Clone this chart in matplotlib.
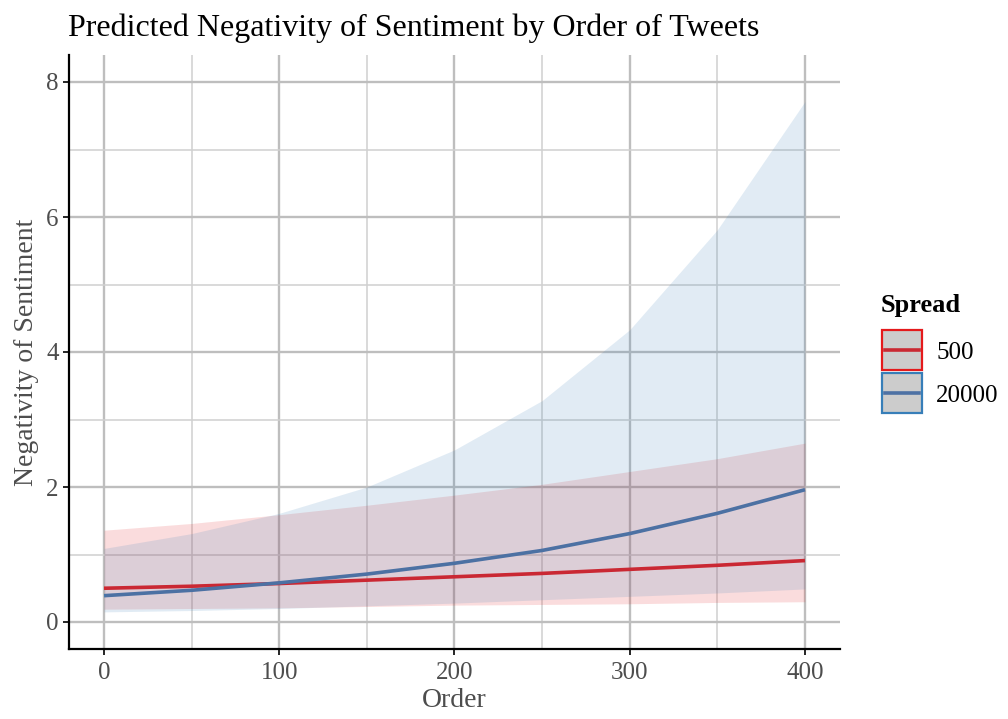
import matplotlib
matplotlib.use("Agg")
import matplotlib.pyplot as plt
from matplotlib.patches import Rectangle
from matplotlib.lines import Line2D
from matplotlib.ticker import MultipleLocator

# ---------------- data ----------------
order = [0, 50, 100, 150, 200, 250, 300, 350, 400]

fit_500 = [0.50, 0.53, 0.57, 0.62, 0.67, 0.72, 0.78, 0.84, 0.91]
lo_500 = [0.19, 0.20, 0.21, 0.23, 0.25, 0.26, 0.27, 0.29, 0.30]
hi_500 = [1.36, 1.46, 1.59, 1.73, 1.88, 2.04, 2.23, 2.42, 2.65]

fit_20000 = [0.39, 0.47, 0.58, 0.71, 0.87, 1.06, 1.31, 1.61, 1.96]
lo_20000 = [0.15, 0.17, 0.20, 0.24, 0.28, 0.33, 0.38, 0.43, 0.49]
hi_20000 = [1.09, 1.31, 1.61, 2.00, 2.55, 3.28, 4.33, 5.81, 7.71]

legend_title = "Spread"
legend_labels = ["500", "20000"]

RED = "#E41A1C"
BLUE = "#377EB8"
ALPHA = 0.15

plt.rcParams['font.family'] = ['Liberation Serif', 'DejaVu Serif']

W, H = 1008, 719
fig = plt.figure(figsize=(W / 100, H / 100), dpi=100)
ax = fig.add_axes([69 / W, 1 - 649 / H, (840 - 69) / W, (649 - 55) / H])

# lines first, ribbons on top (as in the reference)
ax.plot(order, fit_500, color=RED, lw=2.6, zorder=2, solid_capstyle='butt')
ax.plot(order, fit_20000, color=BLUE, lw=2.6, zorder=2, solid_capstyle='butt')
ax.fill_between(order, lo_500, hi_500, color=RED, alpha=ALPHA, lw=0, zorder=3)
ax.fill_between(order, lo_20000, hi_20000, color=BLUE, alpha=ALPHA, lw=0, zorder=4)

ax.set_xlim(-20, 420)
ax.set_ylim(-0.4, 8.4)
ax.xaxis.set_major_locator(MultipleLocator(100))
ax.xaxis.set_minor_locator(MultipleLocator(50))
ax.yaxis.set_major_locator(MultipleLocator(2))
ax.yaxis.set_minor_locator(MultipleLocator(1))

ax.set_axisbelow(True)
ax.grid(which='major', color='#BEBEBE', lw=1.7, zorder=0)
ax.grid(which='minor', color='#D0D0D0', lw=1.1, zorder=0)

for s in ['top', 'right']:
    ax.spines[s].set_visible(False)
for s in ['left', 'bottom']:
    ax.spines[s].set_color('black')
    ax.spines[s].set_linewidth(1.6)

ax.tick_params(which='major', length=4.5, width=1.2, color='black',
               labelsize=18, labelcolor='#4D4D4D', pad=3)
ax.tick_params(axis='x', which='major', pad=5)
ax.tick_params(which='minor', length=0)

ax.set_xlabel("Order", fontsize=20, color='#4D4D4D', labelpad=3)
ax.set_ylabel("Negativity of Sentiment", fontsize=20, color='#4D4D4D', labelpad=5)

fig.text(68 / W, 1 - 28 / H, "Predicted Negativity of Sentiment by Order of Tweets",
         fontsize=23, color='black', ha='left', va='center')

# ---------------- legend (manual, ggplot-like) ----------------
def fx(px):
    return px / W

def fy(py):
    return 1 - py / H

fig.text(fx(881), fy(306), legend_title, fontsize=19, fontweight='bold',
         ha='left', va='center', color='black')

line_red_mix = "#CA2933"
line_blue_mix = "#4D71A4"
keys = [(RED, line_red_mix, 330, 370), (BLUE, line_blue_mix, 373, 413)]
for (edge, lc, top, bot), lab in zip(keys, legend_labels):
    x0, x1 = 882, 922
    fig.add_artist(Rectangle((fx(x0), fy(bot)), fx(x1) - fx(x0), fy(top) - fy(bot),
                             transform=fig.transFigure, facecolor='#CCCCCC',
                             edgecolor=edge, lw=1.6))
    yc = (top + bot) / 2
    fig.add_artist(Line2D([fx(x0 + 3), fx(x1 - 3)], [fy(yc), fy(yc)],
                          transform=fig.transFigure, color=lc, lw=2.6))
    fig.text(fx(936), fy(yc + 3), lab, fontsize=18, ha='left', va='center', color='black')

fig.savefig("out.png", dpi=100)
